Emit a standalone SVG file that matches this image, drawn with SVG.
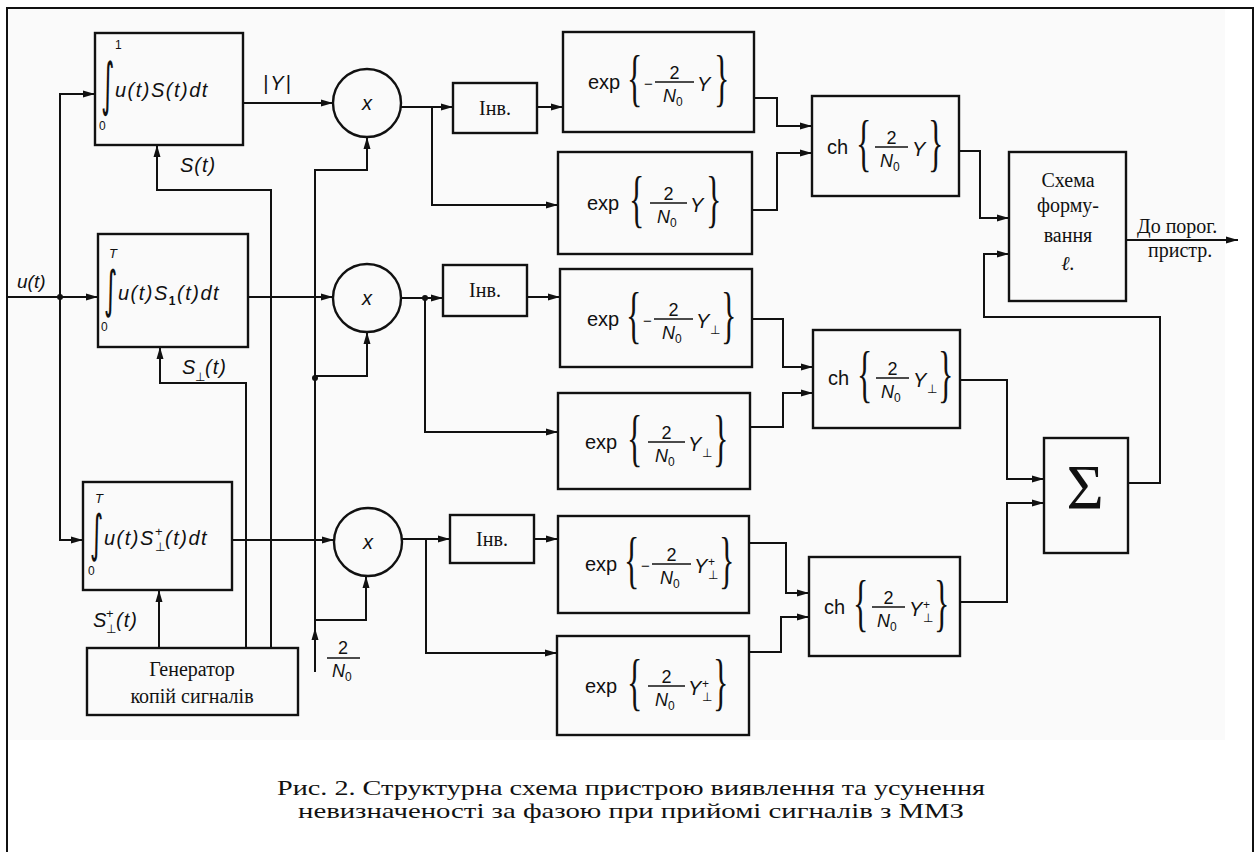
<svg xmlns="http://www.w3.org/2000/svg" width="1258" height="852" viewBox="0 0 1258 852">
<defs>
<marker id="a" markerUnits="userSpaceOnUse" markerWidth="12" markerHeight="8" refX="12" refY="4" orient="auto"><path d="M0,0.5 L12,4 L0,7.5 z" fill="#111"/></marker>
<style>
.bx{fill:none;stroke:#111;stroke-width:2.4}
.c{fill:none;stroke:#111;stroke-width:2;marker-end:url(#a)}
.l{fill:none;stroke:#111;stroke-width:2}
.fl{stroke:#111;stroke-width:1.4}
.it{font-family:"Liberation Sans",Arial,sans-serif;font-style:italic;font-size:20px;fill:#111}
.rm{font-family:"Liberation Sans",Arial,sans-serif;font-size:20px;fill:#111}
.f18{font-size:18px}
.mi{font-size:15px}
.br{font-family:"Liberation Serif","Times New Roman",serif;font-size:32px;fill:#111}
.sm{font-size:12px;font-style:normal}
.sf{font-family:"Liberation Serif","Times New Roman",serif;font-size:20px;fill:#111}
.ig{font-family:"DejaVu Sans",sans-serif;font-size:34px;fill:#111}
</style>
</defs>
<rect x="0" y="0" width="1258" height="852" fill="#fff"/>
<rect x="8" y="9" width="1217" height="731" fill="#fafafa"/>
<g id="frame" class="l">
<path d="M7,852 V8 H1253 V852"/>
</g>

<g id="connectors">
<path class="c" d="M7,297 H98"/>
<path class="c" d="M60,297 V94 H95"/>
<path class="c" d="M60,297 V540 H83"/>
<circle cx="60" cy="297" r="3" fill="#111"/>
<path class="c" d="M243,103 H333"/>
<path class="c" d="M248,297 H333"/>
<path class="c" d="M232,540 H334"/>
<path class="c" d="M271,648 V190 H157 V145"/>
<path class="c" d="M246,648 V383 H160 V347"/>
<path class="c" d="M159,648 V590"/>
<path class="c" d="M315,672 V628"/>
<path class="c" d="M315,632 V170 H367 V137"/>
<path class="c" d="M315,376 H367 V332"/>
<path class="c" d="M315,620 H366 V576"/>
<circle cx="315" cy="378" r="3" fill="#111"/>
<path class="c" d="M401,107 H453"/>
<path class="c" d="M432,107 V205 H558"/>
<path class="c" d="M537,107 H563"/>
<path class="c" d="M401,298 H443"/>
<circle cx="425" cy="298" r="3" fill="#111"/>
<path class="c" d="M425,298 V432 H558"/>
<path class="c" d="M527,297 H560"/>
<path class="c" d="M402,539 H450"/>
<path class="c" d="M426,539 V653 H557"/>
<path class="c" d="M534,539 H558"/>
<path class="c" d="M754,98 H777 V126 H812"/>
<path class="c" d="M752,210 H777 V153 H812"/>
<path class="c" d="M752,319 H783 V367 H813"/>
<path class="c" d="M750,427 H783 V393 H813"/>
<path class="c" d="M749,543 H786 V593 H809"/>
<path class="c" d="M749,652 H781 V617 H809"/>
<path class="c" d="M959,151 H980 V218 H1009"/>
<path class="c" d="M960,380 H1007 V479 H1044"/>
<path class="c" d="M960,602 H1007 V503 H1044"/>
<path class="c" d="M1128,483 H1160 V317 H984 V254 H1009"/>
<path class="c" d="M1126,240 H1238"/>
</g>

<g id="int1">
<rect class="bx" x="95" y="33" width="148" height="112"/>
<text class="ig" transform="translate(101,104) scale(0.75,1.7)">∫</text>
<text class="rm" x="115" y="49" style="font-size:12px">1</text>
<text class="rm" x="99" y="130" style="font-size:12px">0</text>
<text class="it" x="115" y="97" letter-spacing="1.5">u(t)S(t)dt</text>
</g>
<g id="int2">
<rect class="bx" x="98" y="234" width="150" height="113"/>
<text class="ig" transform="translate(104,307) scale(0.75,1.5)">∫</text>
<text class="it" x="109" y="258" style="font-size:13px">T</text>
<text class="rm" x="101" y="331" style="font-size:12px">0</text>
<text class="it" x="118" y="300" letter-spacing="1.5">u(t)S<tspan class="sm" dy="5" style="font-weight:bold">1</tspan><tspan dy="-5">(t)dt</tspan></text>
</g>
<g id="int3">
<rect class="bx" x="83" y="482" width="149" height="108"/>
<text class="ig" transform="translate(90,551) scale(0.75,1.5)">∫</text>
<text class="it" x="95" y="503" style="font-size:13px">T</text>
<text class="rm" x="88" y="575" style="font-size:12px">0</text>
<text class="it" x="104" y="545" letter-spacing="1.5">u(t)S</text>
<text class="rm" x="155" y="536" style="font-size:13px">+</text>
<text class="rm" x="155" y="551" style="font-size:12px">⊥</text>
<text class="it" x="165" y="545" letter-spacing="1.5">(t)dt</text>
</g>
<g id="gen">
<rect class="bx" x="87" y="648" width="211" height="67"/>
<text class="sf" x="192" y="676" text-anchor="middle">Генератор</text>
<text class="sf" x="192" y="703" text-anchor="middle">копій сигналів</text>
</g>

<g id="mul1"><circle class="bx" cx="367" cy="103" r="34"/><text class="it" x="367" y="110" text-anchor="middle">x</text></g>
<g id="mul2"><circle class="bx" cx="367" cy="298" r="34"/><text class="it" x="367" y="305" text-anchor="middle">x</text></g>
<g id="mul3"><circle class="bx" cx="368" cy="542" r="34"/><text class="it" x="368" y="549" text-anchor="middle">x</text></g>

<g id="inv1"><rect class="bx" x="453" y="83" width="84" height="50"/><text class="sf" x="495" y="115" text-anchor="middle">Інв.</text></g>
<g id="inv2"><rect class="bx" x="443" y="265" width="84" height="51"/><text class="sf" x="485" y="297" text-anchor="middle">Інв.</text></g>
<g id="inv3"><rect class="bx" x="450" y="515" width="84" height="48"/><text class="sf" x="492" y="546" text-anchor="middle">Інв.</text></g>

<g id="exp1">
<rect class="bx" x="563" y="32" width="191" height="100"/>
<text class="rm" x="588" y="89">exp</text>
<text class="br" transform="translate(627,99) scale(1,2)">{</text>
<text class="rm mi" x="644" y="89">−</text>
<line class="fl" x1="655" x2="694" y1="82" y2="82"/>
<text class="rm f18" x="674.5" y="79" text-anchor="middle">2</text>
<text class="it f18" x="663" y="102">N<tspan class="sm" dy="4">0</tspan></text>
<text class="it" x="697" y="91">Y</text>
<text class="br" transform="translate(714,99) scale(1,2)">}</text>
</g>
<g id="exp2">
<rect class="bx" x="558" y="152" width="194" height="102"/>
<text class="rm" x="587" y="210">exp</text>
<text class="br" transform="translate(629,220) scale(1,2)">{</text>
<line class="fl" x1="650" x2="687" y1="203" y2="203"/>
<text class="rm f18" x="668.5" y="200" text-anchor="middle">2</text>
<text class="it f18" x="657" y="223">N<tspan class="sm" dy="4">0</tspan></text>
<text class="it" x="690" y="212">Y</text>
<text class="br" transform="translate(706,220) scale(1,2)">}</text>
</g>
<g id="exp3">
<rect class="bx" x="560" y="269" width="192" height="98"/>
<text class="rm" x="587" y="326">exp</text>
<text class="br" transform="translate(626,336) scale(1,2)">{</text>
<text class="rm mi" x="643" y="326">−</text>
<line class="fl" x1="654" x2="693" y1="319" y2="319"/>
<text class="rm f18" x="673.5" y="316" text-anchor="middle">2</text>
<text class="it f18" x="662" y="339">N<tspan class="sm" dy="4">0</tspan></text>
<text class="it" x="696" y="328">Y</text>
<text class="rm sm" x="710" y="334">⊥</text>
<text class="br" transform="translate(721,336) scale(1,2)">}</text>
</g>
<g id="exp4">
<rect class="bx" x="558" y="393" width="192" height="96"/>
<text class="rm" x="585" y="449">exp</text>
<text class="br" transform="translate(627,459) scale(1,2)">{</text>
<line class="fl" x1="648" x2="685" y1="442" y2="442"/>
<text class="rm f18" x="666.5" y="439" text-anchor="middle">2</text>
<text class="it f18" x="655" y="462">N<tspan class="sm" dy="4">0</tspan></text>
<text class="it" x="688" y="451">Y</text>
<text class="rm sm" x="702" y="457">⊥</text>
<text class="br" transform="translate(713,459) scale(1,2)">}</text>
</g>
<g id="exp5">
<rect class="bx" x="558" y="516" width="191" height="97"/>
<text class="rm" x="585" y="571">exp</text>
<text class="br" transform="translate(624,581) scale(1,2)">{</text>
<text class="rm mi" x="641" y="571">−</text>
<line class="fl" x1="652" x2="691" y1="564" y2="564"/>
<text class="rm f18" x="671.5" y="561" text-anchor="middle">2</text>
<text class="it f18" x="660" y="584">N<tspan class="sm" dy="4">0</tspan></text>
<text class="it" x="694" y="573">Y</text>
<text class="rm sm" x="708" y="566">+</text>
<text class="rm sm" x="708" y="579">⊥</text>
<text class="br" transform="translate(719,581) scale(1,2)">}</text>
</g>
<g id="exp6">
<rect class="bx" x="557" y="636" width="192" height="99"/>
<text class="rm" x="585" y="693">exp</text>
<text class="br" transform="translate(627,703) scale(1,2)">{</text>
<line class="fl" x1="648" x2="685" y1="686" y2="686"/>
<text class="rm f18" x="666.5" y="683" text-anchor="middle">2</text>
<text class="it f18" x="655" y="706">N<tspan class="sm" dy="4">0</tspan></text>
<text class="it" x="688" y="695">Y</text>
<text class="rm sm" x="702" y="688">+</text>
<text class="rm sm" x="702" y="701">⊥</text>
<text class="br" transform="translate(713,703) scale(1,2)">}</text>
</g>

<g id="ch1">
<rect class="bx" x="812" y="96" width="147" height="100"/>
<text class="rm" x="827" y="154">ch</text>
<text class="br" transform="translate(856,164) scale(1,2)">{</text>
<line class="fl" x1="875" x2="908" y1="147" y2="147"/>
<text class="rm f18" x="891.5" y="144" text-anchor="middle">2</text>
<text class="it f18" x="880" y="167">N<tspan class="sm" dy="4">0</tspan></text>
<text class="it" x="912" y="156">Y</text>
<text class="br" transform="translate(928,164) scale(1,2)">}</text>
</g>
<g id="ch2">
<rect class="bx" x="813" y="330" width="147" height="98"/>
<text class="rm" x="828" y="385">ch</text>
<text class="br" transform="translate(857,395) scale(1,2)">{</text>
<line class="fl" x1="876" x2="909" y1="378" y2="378"/>
<text class="rm f18" x="892.5" y="375" text-anchor="middle">2</text>
<text class="it f18" x="881" y="398">N<tspan class="sm" dy="4">0</tspan></text>
<text class="it" x="913" y="387">Y</text>
<text class="rm sm" x="927" y="393">⊥</text>
<text class="br" transform="translate(938,395) scale(1,2)">}</text>
</g>
<g id="ch3">
<rect class="bx" x="809" y="557" width="151" height="99"/>
<text class="rm" x="824" y="614">ch</text>
<text class="br" transform="translate(853,624) scale(1,2)">{</text>
<line class="fl" x1="872" x2="905" y1="607" y2="607"/>
<text class="rm f18" x="888.5" y="604" text-anchor="middle">2</text>
<text class="it f18" x="877" y="627">N<tspan class="sm" dy="4">0</tspan></text>
<text class="it" x="909" y="616">Y</text>
<text class="rm sm" x="923" y="609">+</text>
<text class="rm sm" x="923" y="622">⊥</text>
<text class="br" transform="translate(934,624) scale(1,2)">}</text>
</g>

<g id="schema">
<rect class="bx" x="1009" y="152" width="117" height="149"/>
<text class="sf" x="1068" y="187" text-anchor="middle">Схема</text>
<text class="sf" x="1068" y="212" text-anchor="middle">форму-</text>
<text class="sf" x="1068" y="242" text-anchor="middle">вання</text>
<text class="sf" x="1068" y="270" text-anchor="middle" font-style="italic">ℓ.</text>
</g>
<g id="sum">
<rect class="bx" x="1044" y="438" width="84" height="115"/>
<text class="sf" x="1085" y="509" text-anchor="middle" style="font-size:64px">Σ</text>
</g>

<g id="labels">
<text class="it" x="17" y="288" style="font-size:19px">u(t)</text>
<text class="it" x="263" y="90" letter-spacing="2">|Y|</text>
<text class="it" x="180" y="172" letter-spacing="1">S(t)</text>
<text class="it" x="182" y="374" letter-spacing="1">S</text>
<text class="rm sm" x="195" y="381">⊥</text>
<text class="it" x="205" y="374" letter-spacing="1">(t)</text>
<text class="it" x="93" y="627" letter-spacing="1">S</text>
<text class="rm" x="106" y="618" style="font-size:13px">+</text>
<text class="rm sm" x="106" y="633">⊥</text>
<text class="it" x="116" y="627" letter-spacing="1">(t)</text>
<line class="fl" x1="327" x2="360" y1="658" y2="658"/>
<text class="rm f18" x="343" y="654" text-anchor="middle">2</text>
<text class="it f18" x="332" y="677">N<tspan class="sm" dy="4">0</tspan></text>
<text class="sf" x="1137" y="233">До порог.</text>
<text class="sf" x="1148" y="257">пристр.</text>
</g>

<g id="caption">
<text class="sf" x="631" y="795" text-anchor="middle" style="font-size:21px" textLength="708" lengthAdjust="spacingAndGlyphs">Рис. 2. Структурна схема пристрою виявлення та усунення</text>
<text class="sf" x="631" y="818" text-anchor="middle" style="font-size:21px" textLength="666" lengthAdjust="spacingAndGlyphs">невизначеності за фазою при прийомі сигналів з ММЗ</text>
</g>
</svg>
